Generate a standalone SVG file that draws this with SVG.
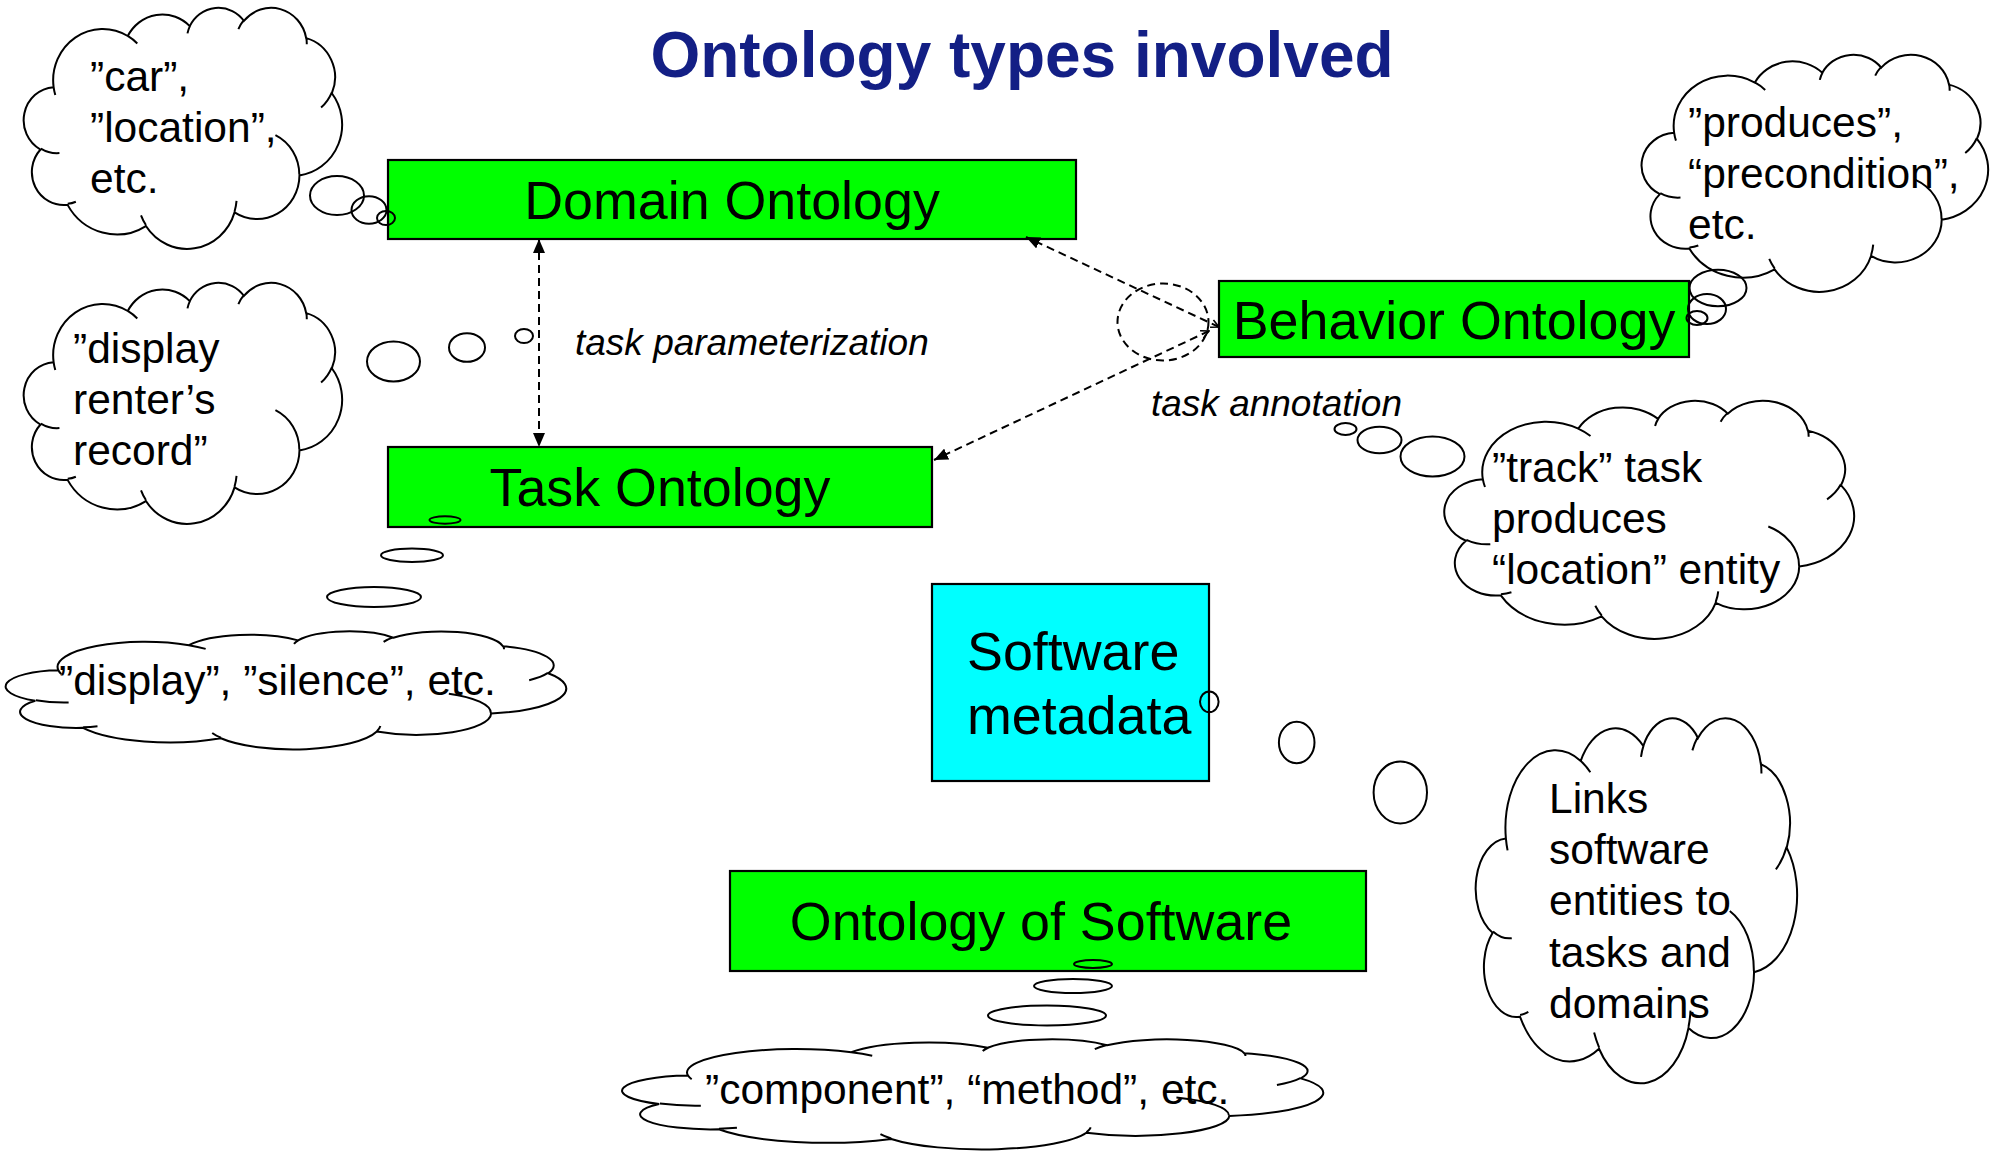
<svg xmlns="http://www.w3.org/2000/svg" xmlns:xlink="http://www.w3.org/1999/xlink" width="2000" height="1152" viewBox="0 0 2000 1152">
<style>
  .box { stroke: #000; stroke-width: 2.2; }
  .green { fill: #00ff00; }
  .cyan { fill: #00ffff; }
  .lbl { font-family: "Liberation Sans", Arial, sans-serif; font-size: 53.8px; fill: #000; }
  .ct { font-family: "Liberation Sans", Arial, sans-serif; font-size: 42.5px; fill: #000; }
  .it { font-family: "Liberation Sans", Arial, sans-serif; font-size: 37px; font-style: italic; fill: #000; }
  .title { font-family: "Liberation Sans", Arial, sans-serif; font-size: 64px; font-weight: bold; fill: #131f85; }
  .bub { fill: none; stroke: #000; stroke-width: 2; }
  .dash { fill: none; stroke: #000; stroke-width: 2; stroke-dasharray: 8 5; }
</style>
<defs>
  <path id="cloud" vector-effect="non-scaling-stroke" fill="none" stroke="#000" stroke-width="2"
    d="M39,143.7 A67.53,91.9 0 0 1 140.05,52.01 A53.33,72.67 0 0 1 224.55,34.31 A43.65,59.45 0 0 1 298.32,24.81 A48.57,65.95 0 0 1 383.18,55.77 A53.33,72.73 0 0 1 418.18,154.61 A67.75,92.2 0 0 1 374.02,302.02 A57.85,78.67 0 0 1 285.54,368.12 A67.52,92.15 0 0 1 164.78,392.63 A77.2,105.43 0 0 1 58.02,354.67 A43.6,59.18 0 0 1 21.11,255.45 A43.45,59.45 0 0 1 39,143.7 Z
       M46.93,261.77 A43.45,59.45 0 0 1 21.59,253.79
       M69.28,348.99 A43.6,59.18 0 0 1 58.19,352.81
       M164.78,390.9 A67.52,92.15 0 0 1 158.1,373.5
       M288.27,347.51 A67.52,92.15 0 0 1 285.6,366.6
       M341.29,229.54 A57.85,78.67 0 0 1 373.81,300.9
       M417.98,153.54 A53.33,72.73 0 0 1 403.49,180.32
       M383.24,54.26 A48.57,65.95 0 0 1 384,66.9
       M290.78,39.52 A48.57,65.95 0 0 1 298.2,23.4
       M221.41,47.2 A43.65,59.45 0 0 1 225.01,33.3
       M140,51.92 A67.53,91.9 0 0 1 153.02,65.43
       M41.27,157.89 A67.53,91.9 0 0 1 39,143.7"/>
  <marker id="tri" markerUnits="userSpaceOnUse" viewBox="0 0 14 12" refX="14" refY="6" markerWidth="14" markerHeight="12" orient="auto-start-reverse">
    <path d="M0,0 L14,6 L0,12 Z" fill="#000"/>
  </marker>
  <marker id="open" markerUnits="userSpaceOnUse" viewBox="0 0 10 10" refX="9" refY="5" markerWidth="10" markerHeight="10" orient="auto-start-reverse">
    <path d="M1,1 L9,5 L1,9" fill="none" stroke="#000" stroke-width="1.6"/>
  </marker>
</defs>

<rect width="2000" height="1152" fill="#fff"/>

<text class="title" x="1022" y="77" text-anchor="middle">Ontology types involved</text>

<g id="domain-ontology">
  <rect class="box green" x="388" y="160" width="688" height="79"/>
  <text class="lbl" x="732" y="219" text-anchor="middle">Domain Ontology</text>
</g>
<g id="task-ontology">
  <rect class="box green" x="388" y="447" width="544" height="80"/>
  <text class="lbl" x="660" y="506" text-anchor="middle">Task Ontology</text>
</g>
<g id="behavior-ontology">
  <rect class="box green" x="1219" y="281" width="470" height="76"/>
  <text class="lbl" x="1454" y="339" text-anchor="middle">Behavior Ontology</text>
</g>
<g id="software-metadata">
  <rect class="box cyan" x="932" y="584" width="277" height="197"/>
  <text class="lbl" x="967" y="670">Software</text>
  <text class="lbl" x="967" y="734">metadata</text>
</g>
<g id="ontology-of-software">
  <rect class="box green" x="730" y="871" width="636" height="100"/>
  <text class="lbl" x="1041" y="940" text-anchor="middle">Ontology of Software</text>
</g>

<g id="connectors">
  <line class="dash" x1="539" y1="239" x2="539" y2="447" marker-start="url(#tri)" marker-end="url(#tri)"/>
  <line class="dash" x1="1219" y1="327" x2="1026" y2="237" marker-start="url(#open)" marker-end="url(#tri)"/>
  <line class="dash" x1="1209" y1="331" x2="934" y2="460" marker-start="url(#open)" marker-end="url(#tri)"/>
  <ellipse class="dash" cx="1163" cy="322" rx="45.5" ry="38.5"/>
  <text class="it" x="575" y="355">task parameterization</text>
  <text class="it" x="1151" y="416">task annotation</text>
</g>

<g id="cloud-domain">
  <use href="#cloud" transform="translate(25,7) scale(0.7338,0.5579)"/>
  <ellipse class="bub" cx="337" cy="195.5" rx="27" ry="19.5"/>
  <ellipse class="bub" cx="369" cy="210" rx="17.5" ry="13.7"/>
  <ellipse class="bub" cx="386" cy="218" rx="9" ry="7"/>
  <text class="ct" x="90" y="91">”car”,</text>
  <text class="ct" x="90" y="142">”location”,</text>
  <text class="ct" x="90" y="193">etc.</text>
</g>

<g id="cloud-task-param">
  <use href="#cloud" transform="translate(25,282) scale(0.7338,0.5579)"/>
  <ellipse class="bub" cx="393.5" cy="361.5" rx="26.5" ry="20"/>
  <ellipse class="bub" cx="467" cy="347.5" rx="18" ry="14.3"/>
  <ellipse class="bub" cx="524" cy="336" rx="9" ry="7"/>
  <text class="ct" x="73" y="363">”display</text>
  <text class="ct" x="73" y="414">renter’s</text>
  <text class="ct" x="73" y="465">record”</text>
</g>

<g id="cloud-behavior">
  <use href="#cloud" transform="translate(1643,54) scale(0.7986,0.5486)"/>
  <ellipse class="bub" cx="1718" cy="288" rx="28.5" ry="18.3"/>
  <ellipse class="bub" cx="1707" cy="309" rx="19" ry="15"/>
  <ellipse class="bub" cx="1697" cy="318" rx="10.5" ry="7"/>
  <text class="ct" x="1688" y="137">”produces”,</text>
  <text class="ct" x="1688" y="188">“precondition”,</text>
  <text class="ct" x="1688" y="239">etc.</text>
</g>

<g id="cloud-annotation">
  <use href="#cloud" transform="translate(1446,400) scale(0.9444,0.5509)"/>
  <ellipse class="bub" cx="1345.5" cy="429" rx="11" ry="6"/>
  <ellipse class="bub" cx="1379.5" cy="440" rx="22" ry="13.3"/>
  <ellipse class="bub" cx="1432.5" cy="456.5" rx="32" ry="20"/>
  <text class="ct" x="1492" y="482">”track” task</text>
  <text class="ct" x="1492" y="533">produces</text>
  <text class="ct" x="1492" y="584">“location” entity</text>
</g>

<g id="cloud-task">
  <use href="#cloud" transform="translate(8,631) scale(1.2917,0.2731)"/>
  <ellipse class="bub" cx="445" cy="520" rx="15.5" ry="3.7"/>
  <ellipse class="bub" cx="412" cy="555.3" rx="31" ry="6.7"/>
  <ellipse class="bub" cx="374" cy="597" rx="47" ry="10"/>
  <text class="ct" x="59" y="695">”display”, ”silence”, etc.</text>
</g>

<g id="cloud-software">
  <use href="#cloud" transform="translate(625,1039) scale(1.6157,0.2546)"/>
  <ellipse class="bub" cx="1093" cy="964" rx="19" ry="4"/>
  <ellipse class="bub" cx="1073" cy="986" rx="39" ry="7"/>
  <ellipse class="bub" cx="1047" cy="1015.5" rx="59" ry="10"/>
  <text class="ct" x="705" y="1104">”component”, “method”, etc.</text>
</g>

<g id="cloud-metadata">
  <use href="#cloud" transform="translate(1477,717) scale(0.7407,0.8449)"/>
  <ellipse class="bub" cx="1209.3" cy="701.8" rx="9.3" ry="10.3"/>
  <ellipse class="bub" cx="1296.7" cy="742.5" rx="17.8" ry="20.7"/>
  <ellipse class="bub" cx="1400.3" cy="792.4" rx="26.7" ry="31"/>
  <text class="ct" x="1549" y="813">Links</text>
  <text class="ct" x="1549" y="864">software</text>
  <text class="ct" x="1549" y="915">entities to</text>
  <text class="ct" x="1549" y="967">tasks and</text>
  <text class="ct" x="1549" y="1018">domains</text>
</g>
</svg>
